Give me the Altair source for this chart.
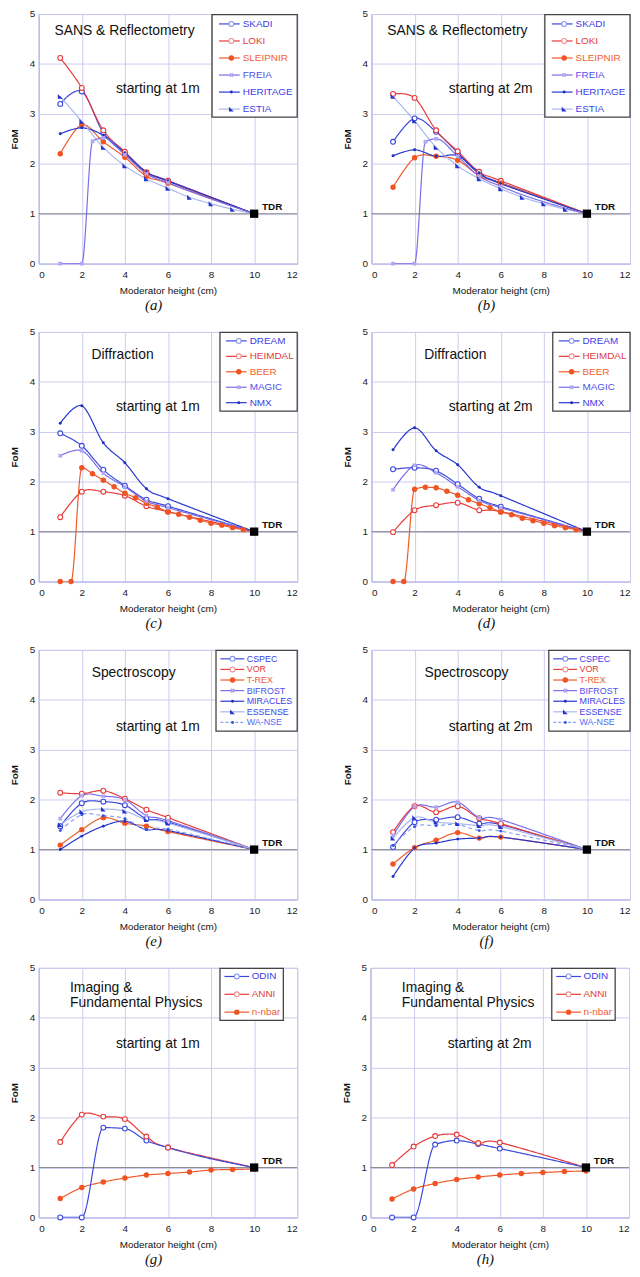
import altair as alt
import pandas as pd

FONT = "Liberation Sans"
W, H = 261, 252
SX = W / 256.0  # horizontal scale for in-plot annotation placement

# ---------------- x positions ----------------
X_MAIN = [1, 2, 3, 4, 5, 6, 10]
X_STEP = [1, 2, 2.5, 3, 4, 5, 6, 10]
X_INT = [1, 2, 3, 4, 5, 6, 7, 8, 9, 10]
X_HALF = [1, 1.5, 2, 2.5, 3, 3.5, 4, 4.5, 5, 5.5, 6, 6.5, 7, 7.5, 8, 8.5, 9, 9.5, 10]
TDR_X = [10]
TDR_Y = [1]

# ---------------- (a) SANS & Reflectometry, 1 m ----------------
A_SKADI = [3.2, 3.45, 2.62, 2.2, 1.82, 1.65, 1.0]
A_LOKI = [4.12, 3.52, 2.67, 2.24, 1.83, 1.66, 1.0]
A_SLEIPNIR = [2.2, 2.78, 2.44, 2.13, 1.75, 1.61, 1.0]
A_FREIA = [0.0, 0.0, 2.45, 2.52, 2.18, 1.8, 1.62, 1.0]
A_HERITAGE = [2.6, 2.72, 2.57, 2.22, 1.84, 1.66, 1.0]
A_ESTIA = [3.35, 2.85, 2.33, 1.96, 1.70, 1.51, 1.33, 1.2, 1.09, 1.0]

# ---------------- (b) SANS & Reflectometry, 2 m ----------------
B_SKADI = [2.44, 2.91, 2.64, 2.22, 1.8, 1.62, 1.0]
B_LOKI = [3.40, 3.32, 2.67, 2.25, 1.84, 1.66, 1.0]
B_SLEIPNIR = [1.53, 2.12, 2.15, 2.07, 1.76, 1.61, 1.0]
B_FREIA = [0.0, 0.0, 2.44, 2.5, 2.15, 1.75, 1.55, 1.0]
B_HERITAGE = [2.16, 2.28, 2.15, 2.16, 1.82, 1.6, 1.0]
B_ESTIA = [3.35, 2.86, 2.33, 1.96, 1.70, 1.50, 1.33, 1.2, 1.09, 1.0]

# ---------------- (c) Diffraction, 1 m ----------------
C_DREAM = [2.97, 2.72, 2.24, 1.92, 1.64, 1.51, 1.0]
C_HEIMDAL = [1.29, 1.8, 1.8, 1.72, 1.51, 1.4, 1.0]
C_BEER = [0.0, 0.0, 2.28, 2.16, 2.03, 1.9, 1.77, 1.68, 1.57, 1.49, 1.4, 1.35,
          1.29, 1.23, 1.17, 1.13, 1.08, 1.04, 1.0]
C_MAGIC = [2.52, 2.62, 2.17, 1.9, 1.61, 1.48, 1.0]
C_NMX = [3.17, 3.52, 2.78, 2.38, 1.86, 1.66, 1.0]

# ---------------- (d) Diffraction, 2 m ----------------
D_DREAM = [2.25, 2.28, 2.22, 1.95, 1.66, 1.5, 1.0]
D_HEIMDAL = [0.99, 1.43, 1.53, 1.58, 1.43, 1.4, 1.0]
D_BEER = [0.0, 0.0, 1.85, 1.89, 1.88, 1.81, 1.73, 1.64, 1.56, 1.48, 1.40, 1.34,
          1.27, 1.22, 1.17, 1.12, 1.08, 1.04, 1.0]
D_MAGIC = [1.84, 2.33, 2.18, 1.9, 1.63, 1.48, 1.0]
D_NMX = [2.64, 3.08, 2.62, 2.34, 1.89, 1.72, 1.0]

# ---------------- (e) Spectroscopy, 1 m ----------------
E_CSPEC = [1.47, 1.93, 1.96, 1.89, 1.62, 1.55, 1.0]
E_VOR = [2.14, 2.12, 2.18, 2.02, 1.8, 1.64, 1.0]
E_TREX = [1.09, 1.40, 1.64, 1.53, 1.47, 1.36, 1.0]
E_BIFROST = [1.62, 2.08, 2.07, 2.0, 1.68, 1.58, 1.0]
E_MIRACLES = [1.0, 1.27, 1.47, 1.57, 1.40, 1.38, 1.0]
E_ESSENSE = [1.5, 1.76, 1.81, 1.77, 1.6, 1.53, 1.0]
E_WANSE = [1.38, 1.70, 1.68, 1.62, 1.40, 1.41, 1.0]

# ---------------- (f) Spectroscopy, 2 m ----------------
F_CSPEC = [1.05, 1.55, 1.6, 1.65, 1.52, 1.5, 1.0]
F_VOR = [1.35, 1.87, 1.75, 1.87, 1.63, 1.52, 1.0]
F_TREX = [0.71, 1.04, 1.19, 1.34, 1.23, 1.25, 1.0]
F_BIFROST = [1.28, 1.86, 1.85, 1.95, 1.64, 1.6, 1.0]
F_MIRACLES = [0.46, 1.03, 1.13, 1.21, 1.23, 1.25, 1.0]
F_ESSENSE = [1.23, 1.64, 1.55, 1.52, 1.48, 1.46, 1.0]
F_WANSE = [1.08, 1.46, 1.48, 1.50, 1.38, 1.37, 1.0]

# ---------------- (g) Imaging & Fundamental Physics, 1 m ----------------
G_ODIN = [0.0, 0.0, 1.8, 1.78, 1.54, 1.40, 1.0]
G_ANNI = [1.51, 2.06, 2.02, 1.97, 1.62, 1.40, 1.0]
G_NNBAR = [0.38, 0.6, 0.71, 0.79, 0.85, 0.88, 0.91, 0.95, 0.96, 0.97]

# ---------------- (h) Imaging & Fundamental Physics, 2 m ----------------
H_ODIN = [0.0, 0.0, 1.46, 1.54, 1.47, 1.38, 1.0]
H_ANNI = [1.05, 1.42, 1.63, 1.66, 1.49, 1.50, 1.0]
H_NNBAR = [0.37, 0.57, 0.68, 0.76, 0.81, 0.85, 0.88, 0.90, 0.92, 0.93]

PANELS = [
    ("a", "sans", "starting at 1m",
     ["SKADI", "LOKI", "SLEIPNIR", "FREIA", "HERITAGE", "ESTIA"],
     [X_MAIN, X_MAIN, X_MAIN, X_STEP, X_MAIN, X_INT],
     [A_SKADI, A_LOKI, A_SLEIPNIR, A_FREIA, A_HERITAGE, A_ESTIA]),
    ("b", "sans", "starting at 2m",
     ["SKADI", "LOKI", "SLEIPNIR", "FREIA", "HERITAGE", "ESTIA"],
     [X_MAIN, X_MAIN, X_MAIN, X_STEP, X_MAIN, X_INT],
     [B_SKADI, B_LOKI, B_SLEIPNIR, B_FREIA, B_HERITAGE, B_ESTIA]),
    ("c", "diff", "starting at 1m",
     ["DREAM", "HEIMDAL", "BEER", "MAGIC", "NMX"],
     [X_MAIN, X_MAIN, X_HALF, X_MAIN, X_MAIN],
     [C_DREAM, C_HEIMDAL, C_BEER, C_MAGIC, C_NMX]),
    ("d", "diff", "starting at 2m",
     ["DREAM", "HEIMDAL", "BEER", "MAGIC", "NMX"],
     [X_MAIN, X_MAIN, X_HALF, X_MAIN, X_MAIN],
     [D_DREAM, D_HEIMDAL, D_BEER, D_MAGIC, D_NMX]),
    ("e", "spec", "starting at 1m",
     ["CSPEC", "VOR", "T-REX", "BIFROST", "MIRACLES", "ESSENSE", "WA-NSE"],
     [X_MAIN] * 7,
     [E_CSPEC, E_VOR, E_TREX, E_BIFROST, E_MIRACLES, E_ESSENSE, E_WANSE]),
    ("f", "spec", "starting at 2m",
     ["CSPEC", "VOR", "T-REX", "BIFROST", "MIRACLES", "ESSENSE", "WA-NSE"],
     [X_MAIN] * 7,
     [F_CSPEC, F_VOR, F_TREX, F_BIFROST, F_MIRACLES, F_ESSENSE, F_WANSE]),
    ("g", "img", "starting at 1m",
     ["ODIN", "ANNI", "n-nbar"],
     [X_MAIN, X_MAIN, X_INT],
     [G_ODIN, G_ANNI, G_NNBAR]),
    ("h", "img", "starting at 2m",
     ["ODIN", "ANNI", "n-nbar"],
     [X_MAIN, X_MAIN, X_INT],
     [H_ODIN, H_ANNI, H_NNBAR]),
]

# ---------------- styles ----------------
STYLE = {
    "SKADI": "open_b", "LOKI": "open_r", "SLEIPNIR": "big", "FREIA": "cross",
    "HERITAGE": "small", "ESTIA": "tri",
    "DREAM": "open_b", "HEIMDAL": "open_r", "BEER": "big", "MAGIC": "cross", "NMX": "small",
    "CSPEC": "open_b", "VOR": "open_r", "T-REX": "big", "BIFROST": "cross",
    "MIRACLES": "small", "ESSENSE": "tri", "WA-NSE": "dash",
    "ODIN": "open_b", "ANNI": "open_r", "n-nbar": "big",
}
MONO = {"FREIA", "BEER", "ODIN"}  # steep rises drawn without overshoot
LINE_COLOR = {"open_b": "#3a48dc", "open_r": "#e83a3a", "big": "#f05a28", "cross": "#786ee6",
              "small": "#2636cf", "tri": "#a8b6f0", "dash": "#8aa2f0"}
MARK_COLOR = {"open_b": "#8895ee", "open_r": "#f19090", "big": "#f05423", "cross": "#b0a8f4",
              "small": "#1f2fc0", "tri": "#2535cc", "dash": "#3355e0"}
LABEL_COLOR = {"open_b": "#3c3ce8", "open_r": "#e03c3c", "big": "#f06030", "cross": "#5050ea",
               "small": "#3c3ce8", "tri": "#3c46e8", "dash": "#4f6cf0"}
DASH = {"dash": [4, 3]}
MARKER = {
    "open_b": dict(shape="circle", filled=False, fill="white", size=24, strokeWidth=1.1),
    "open_r": dict(shape="circle", filled=False, fill="white", size=24, strokeWidth=1.1),
    "big": dict(shape="circle", filled=True, size=30, strokeWidth=0),
    "small": dict(shape="circle", filled=True, size=9, strokeWidth=0),
    "dash": dict(shape="circle", filled=True, size=9, strokeWidth=0),
    "cross": dict(shape="cross", filled=True, size=22, angle=45, strokeWidth=0),
    "tri": dict(shape="M-1,-1L-1,1L1,1Z", filled=True, size=24, strokeWidth=0),
}

HEAD = {
    "sans": dict(lines=["SANS & Reflectometry"], x=85, ys=[17], align="center", start_y=76),
    "diff": dict(lines=["Diffraction"], x=83, ys=[23], align="center", start_y=76),
    "spec": dict(lines=["Spectroscopy"], x=94, ys=[23], align="center", start_y=78),
    "img": dict(lines=["Imaging &", "Fundamental Physics"], x=31, ys=[20, 36],
                align="left", start_y=77),
}
# legend key geometry (px, relative to the plot area)
LEG = {
    "sans": dict(w=86, h=104, inset=0, first=10, pitch=17.2, l0=7, l1=28, mk=19.5, lab=31, fs=10),
    "diff": dict(w=78, h=80, inset=0, first=9, pitch=15.6, l0=6, l1=27, mk=19, lab=30, fs=10),
    "spec": dict(w=82, h=82, inset=0, first=9, pitch=10.7, l0=4.5, l1=28.5, mk=16.7, lab=31, fs=9),
    "img": dict(w=64, h=53, inset=14, first=8.7, pitch=18, l0=4.5, l1=29.5, mk=17, lab=32, fs=10),
}

XAX = alt.Axis(values=[0, 2, 4, 6, 8, 10, 12], title="Moderator height (cm)", grid=True,
               ticks=False, labelPadding=6, titlePadding=6)
YAX = alt.Axis(values=[0, 1, 2, 3, 4, 5], title="FoM", titleFontWeight="bold", grid=True,
               ticks=False, labelPadding=4, titlePadding=10)


def make_panel(tag, kind, start, names, xs, ys):
    rows = []
    for n, xl, yl in zip(names, xs, ys):
        for xv, yv in zip(xl, yl):
            rows.append({"series": n, "x": xv, "y": yv})
    df = pd.DataFrame(rows)
    hd = HEAD[kind]
    lg = LEG[kind]

    X = alt.X("x:Q", scale=alt.Scale(domain=[0, 12], nice=False, zero=False), axis=XAX)
    Y = alt.Y("y:Q", scale=alt.Scale(domain=[0, 5], nice=False), axis=YAX)

    line_scale = alt.Scale(domain=names, range=[LINE_COLOR[STYLE[n]] for n in names])
    mark_scale = alt.Scale(domain=names, range=[MARK_COLOR[STYLE[n]] for n in names])
    dash_scale = alt.Scale(domain=names, range=[DASH.get(STYLE[n], [1, 0]) for n in names])

    base = alt.Chart(df)
    tdr = alt.Chart(pd.DataFrame({"x": TDR_X, "y": TDR_Y}))

    def only(grp):
        return base.transform_filter(alt.FieldOneOfPredicate(field="series", oneOf=grp))

    layers = [tdr.mark_rule(color="#8a8a8a", strokeWidth=1).encode(y=Y)]
    smooth = [n for n in names if n not in MONO]
    mono = [n for n in names if n in MONO]
    for grp, interp in ((smooth, "cardinal"), (mono, "monotone")):
        if grp:
            layers.append(only(grp).mark_line(interpolate=interp, strokeWidth=1.2, clip=True).encode(
                X, Y,
                stroke=alt.Stroke("series:N", scale=line_scale, legend=None),
                strokeDash=alt.StrokeDash("series:N", scale=dash_scale, legend=None),
            ))

    for st in ("open_b", "open_r", "big", "small", "dash", "cross", "tri"):
        grp = [n for n in names if STYLE[n] == st]
        if not grp:
            continue
        kw = MARKER[st]
        if kw["filled"]:
            enc = dict(fill=alt.Fill("series:N", scale=mark_scale, legend=None))
        else:
            enc = dict(stroke=alt.Stroke("series:N", scale=mark_scale, legend=None))
        layers.append(only(grp).mark_point(opacity=1, **kw).encode(X, Y, **enc))

    layers.append(tdr.mark_square(size=70, color="black", opacity=1).encode(X, Y))
    layers.append(tdr.mark_text(text="TDR", fontWeight="bold", fontSize=10, font=FONT,
                                align="left", baseline="middle", dx=8, dy=-7,
                                color="#111111").encode(X, Y))

    for line_txt, ty in zip(hd["lines"], hd["ys"]):
        layers.append(alt.Chart(pd.DataFrame({"t": [line_txt]})).mark_text(
            font=FONT, fontSize=14, align=hd["align"], baseline="middle", color="#111111"
        ).encode(text="t:N", x=alt.value(hd["x"] * SX), y=alt.value(ty)))
    layers.append(alt.Chart(pd.DataFrame({"t": [start]})).mark_text(
        font=FONT, fontSize=14, align="center", baseline="middle", color="#111111"
    ).encode(text="t:N", x=alt.value(118 * SX), y=alt.value(hd["start_y"])))

    # ---- legend key drawn inside the plot, as in the original figure ----
    bx1 = W - lg["inset"]
    bx0 = bx1 - lg["w"]
    layers.append(alt.Chart(pd.DataFrame({"k": ["legend"]})).mark_rect(
        fill="white", stroke="#444444", strokeWidth=1.3
    ).encode(x=alt.value(bx0), x2=alt.value(bx1), y=alt.value(0.5), y2=alt.value(lg["h"])))
    for i, n in enumerate(names):
        st = STYLE[n]
        yc = lg["first"] + lg["pitch"] * i
        one = alt.Chart(pd.DataFrame({"series": [n]}))
        rule_kw = dict(color=LINE_COLOR[st], strokeWidth=1.2)
        if st in DASH:
            rule_kw["strokeDash"] = [3, 2]
        layers.append(one.mark_rule(**rule_kw).encode(
            x=alt.value(bx0 + lg["l0"]), x2=alt.value(bx0 + lg["l1"]), y=alt.value(yc)))
        kw = dict(MARKER[st])
        if kw["filled"]:
            kw["fill"] = MARK_COLOR[st]
        else:
            kw["stroke"] = MARK_COLOR[st]
        layers.append(one.mark_point(opacity=1, **kw).encode(
            x=alt.value(bx0 + lg["mk"]), y=alt.value(yc)))
        layers.append(one.mark_text(font=FONT, fontSize=lg["fs"], align="left", baseline="middle",
                                    color=LABEL_COLOR[st]).encode(
            text="series:N", x=alt.value(bx0 + lg["lab"]), y=alt.value(yc)))

    return alt.layer(*layers).properties(
        width=W, height=H,
        title=alt.TitleParams(f"({tag})", orient="bottom", font="Liberation Serif",
                              fontStyle="italic", fontSize=15, fontWeight="normal",
                              offset=3, anchor="middle", frame="bounds", color="#111111"),
    )


INDEP = dict(x="independent", y="independent", stroke="independent", fill="independent",
             strokeDash="independent")

panels = [make_panel(*p) for p in PANELS]
rows = [alt.hconcat(panels[i], panels[i + 1], spacing=42).resolve_scale(**INDEP)
        for i in range(0, 8, 2)]
chart = (alt.vconcat(*rows, spacing=12)
         .resolve_scale(**INDEP)
         .properties(padding=0)
         .configure(font=FONT)
         .configure_axis(gridColor="#cbcbf0", gridWidth=1, domainColor="#b9b9ea",
                         labelFont=FONT, labelFontSize=10, labelColor="#222222",
                         titleFont=FONT, titleFontSize=10, titleColor="#111111",
                         titleFontWeight="normal")
         .configure_view(stroke="#b9b9ea", strokeWidth=1))

chart.save("out.html", embed_options={"renderer": "svg", "actions": False,
                                      "padding": {"top": -6, "left": 0, "right": 0, "bottom": 0}})
